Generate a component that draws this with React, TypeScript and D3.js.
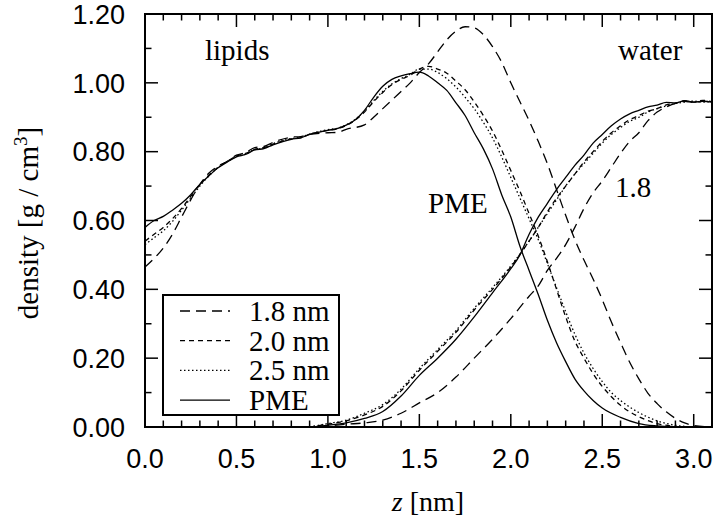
import * as d3 from "d3";

// axis ticks
const zMajor = [0, 0.5, 1.0, 1.5, 2.0, 2.5, 3.0];
const zMinor = [0.1, 0.2, 0.3, 0.4, 0.6, 0.7, 0.8, 0.9, 1.1, 1.2, 1.3, 1.4, 1.6, 1.7, 1.8, 1.9, 2.1, 2.2, 2.3, 2.4, 2.6, 2.7, 2.8, 2.9, 3.1];
const dMajor = [0, 0.2, 0.4, 0.6, 0.8, 1.0, 1.2];
const dMinor = [0.1, 0.3, 0.5, 0.7, 0.9, 1.1];

// lipid density profiles [z (nm), density (g/cm3)]
const lipid18: [number, number][] = [
  [0, 0.465], [0.05, 0.49], [0.1, 0.52], [0.15, 0.56], [0.2, 0.61], [0.25, 0.66], [0.3, 0.705],
  [0.35, 0.738], [0.4, 0.758], [0.45, 0.772], [0.5, 0.79], [0.55, 0.797], [0.6, 0.812], [0.65, 0.815],
  [0.7, 0.827], [0.8, 0.842], [0.85, 0.844], [0.9, 0.85], [1.0, 0.855], [1.05, 0.856], [1.1, 0.865],
  [1.2, 0.878], [1.25, 0.9], [1.3, 0.925], [1.35, 0.95], [1.4, 0.975], [1.45, 1.0], [1.5, 1.03],
  [1.55, 1.055], [1.6, 1.09], [1.65, 1.125], [1.7, 1.15], [1.75, 1.163], [1.8, 1.16], [1.85, 1.14],
  [1.9, 1.105], [1.95, 1.06], [2.0, 1.0], [2.05, 0.945], [2.1, 0.89], [2.15, 0.83], [2.2, 0.765],
  [2.25, 0.69], [2.3, 0.615], [2.35, 0.545], [2.4, 0.485], [2.45, 0.43], [2.5, 0.37], [2.55, 0.305],
  [2.6, 0.245], [2.65, 0.188], [2.7, 0.14], [2.75, 0.098], [2.8, 0.068], [2.85, 0.044], [2.9, 0.025],
  [2.95, 0.012], [3.0, 0.004], [3.1, 0],
];
const lipid20: [number, number][] = [
  [0, 0.54], [0.05, 0.56], [0.1, 0.58], [0.15, 0.605], [0.2, 0.635], [0.25, 0.67], [0.3, 0.705],
  [0.35, 0.732], [0.4, 0.755], [0.45, 0.772], [0.5, 0.787], [0.55, 0.795], [0.6, 0.807], [0.65, 0.812],
  [0.7, 0.822], [0.8, 0.837], [0.85, 0.84], [0.9, 0.85], [1.0, 0.862], [1.05, 0.866], [1.1, 0.876],
  [1.15, 0.892], [1.2, 0.915], [1.25, 0.945], [1.3, 0.972], [1.35, 0.995], [1.4, 1.01], [1.45, 1.022],
  [1.5, 1.04], [1.55, 1.048], [1.6, 1.04], [1.65, 1.028], [1.7, 1.005], [1.75, 0.98], [1.8, 0.945],
  [1.85, 0.905], [1.9, 0.86], [1.95, 0.805], [2.0, 0.745], [2.05, 0.685], [2.1, 0.62], [2.15, 0.555],
  [2.2, 0.48], [2.25, 0.4], [2.3, 0.32], [2.35, 0.25], [2.4, 0.2], [2.45, 0.155], [2.5, 0.118],
  [2.55, 0.088], [2.6, 0.063], [2.7, 0.03], [2.8, 0.01], [2.9, 0.002], [3.0, 0],
];
const lipid25: [number, number][] = [
  [0, 0.53], [0.05, 0.55], [0.1, 0.57], [0.15, 0.597], [0.2, 0.63], [0.25, 0.665], [0.3, 0.7],
  [0.35, 0.73], [0.4, 0.754], [0.45, 0.771], [0.5, 0.786], [0.55, 0.793], [0.6, 0.806], [0.65, 0.81],
  [0.7, 0.823], [0.8, 0.838], [0.85, 0.842], [0.9, 0.851], [1.0, 0.864], [1.05, 0.868], [1.1, 0.878],
  [1.15, 0.894], [1.2, 0.918], [1.25, 0.948], [1.3, 0.975], [1.35, 0.997], [1.4, 1.012], [1.45, 1.025],
  [1.5, 1.04], [1.55, 1.04], [1.6, 1.03], [1.65, 1.012], [1.7, 0.988], [1.75, 0.958], [1.8, 0.925],
  [1.85, 0.885], [1.9, 0.84], [1.95, 0.785], [2.0, 0.725], [2.05, 0.665], [2.1, 0.605], [2.15, 0.545],
  [2.2, 0.475], [2.25, 0.405], [2.3, 0.335], [2.35, 0.27], [2.4, 0.215], [2.45, 0.17], [2.5, 0.132],
  [2.55, 0.1], [2.6, 0.077], [2.7, 0.042], [2.8, 0.018], [2.9, 0.005], [3.0, 0],
];
const lipidPME: [number, number][] = [
  [0, 0.58], [0.05, 0.6], [0.1, 0.612], [0.15, 0.63], [0.2, 0.65], [0.25, 0.675], [0.3, 0.705],
  [0.35, 0.73], [0.4, 0.753], [0.45, 0.77], [0.5, 0.785], [0.55, 0.792], [0.6, 0.805], [0.65, 0.809],
  [0.7, 0.82], [0.8, 0.836], [0.85, 0.84], [0.9, 0.85], [1.0, 0.862], [1.05, 0.867], [1.1, 0.877],
  [1.15, 0.893], [1.2, 0.92], [1.25, 0.958], [1.3, 0.99], [1.35, 1.01], [1.4, 1.02], [1.45, 1.027],
  [1.5, 1.031], [1.55, 1.02], [1.6, 1.0], [1.65, 0.978], [1.7, 0.942], [1.75, 0.905], [1.8, 0.855],
  [1.85, 0.808], [1.9, 0.75], [1.95, 0.675], [2.0, 0.61], [2.05, 0.525], [2.1, 0.455], [2.15, 0.385],
  [2.2, 0.31], [2.25, 0.245], [2.3, 0.19], [2.35, 0.14], [2.4, 0.105], [2.45, 0.077], [2.5, 0.055],
  [2.6, 0.028], [2.7, 0.01], [2.8, 0.003], [2.9, 0],
];

// water density profiles
const water18: [number, number][] = [
  [0.95, 0], [1.0, 0.003], [1.1, 0.008], [1.2, 0.012], [1.3, 0.02], [1.4, 0.04], [1.5, 0.07],
  [1.6, 0.1], [1.7, 0.145], [1.8, 0.2], [1.9, 0.255], [2.0, 0.315], [2.1, 0.38], [2.15, 0.41],
  [2.2, 0.455], [2.25, 0.49], [2.3, 0.53], [2.35, 0.58], [2.4, 0.635], [2.45, 0.68], [2.5, 0.715],
  [2.55, 0.755], [2.6, 0.795], [2.65, 0.83], [2.7, 0.855], [2.75, 0.89], [2.8, 0.915], [2.85, 0.93],
  [2.9, 0.94], [2.95, 0.946], [3.0, 0.943], [3.05, 0.947], [3.1, 0.945],
];
const water20: [number, number][] = [
  [0.9, 0], [1.0, 0.008], [1.1, 0.018], [1.2, 0.035], [1.3, 0.06], [1.4, 0.105], [1.5, 0.165],
  [1.6, 0.22], [1.7, 0.275], [1.8, 0.34], [1.9, 0.4], [2.0, 0.465], [2.1, 0.54], [2.15, 0.58],
  [2.2, 0.625], [2.25, 0.665], [2.3, 0.7], [2.35, 0.735], [2.4, 0.77], [2.45, 0.8], [2.5, 0.83],
  [2.55, 0.855], [2.6, 0.875], [2.65, 0.893], [2.7, 0.905], [2.75, 0.918], [2.8, 0.925], [2.85, 0.936],
  [2.9, 0.94], [2.95, 0.948], [3.0, 0.944], [3.05, 0.949], [3.1, 0.945],
];
const water25: [number, number][] = [
  [0.9, 0], [1.0, 0.01], [1.1, 0.02], [1.2, 0.04], [1.3, 0.065], [1.4, 0.11], [1.5, 0.17],
  [1.6, 0.225], [1.7, 0.28], [1.8, 0.345], [1.9, 0.405], [2.0, 0.468], [2.1, 0.54], [2.15, 0.58],
  [2.2, 0.62], [2.25, 0.66], [2.3, 0.7], [2.35, 0.735], [2.4, 0.765], [2.45, 0.795], [2.5, 0.825],
  [2.55, 0.85], [2.6, 0.87], [2.65, 0.888], [2.7, 0.9], [2.75, 0.915], [2.8, 0.925], [2.85, 0.933],
  [2.9, 0.94], [2.95, 0.944], [3.0, 0.947], [3.05, 0.944], [3.1, 0.946],
];
const waterPME: [number, number][] = [
  [0.9, 0], [1.0, 0.005], [1.1, 0.012], [1.2, 0.025], [1.3, 0.045], [1.4, 0.09], [1.5, 0.15],
  [1.6, 0.2], [1.7, 0.255], [1.8, 0.32], [1.9, 0.39], [2.0, 0.46], [2.05, 0.5], [2.1, 0.56],
  [2.15, 0.61], [2.2, 0.65], [2.25, 0.69], [2.3, 0.725], [2.35, 0.76], [2.4, 0.79], [2.45, 0.825],
  [2.5, 0.85], [2.55, 0.875], [2.6, 0.895], [2.65, 0.91], [2.7, 0.92], [2.75, 0.93], [2.8, 0.935],
  [2.85, 0.943], [2.9, 0.942], [2.95, 0.948], [3.0, 0.944], [3.05, 0.946], [3.1, 0.944],
];

const legendLabels = ["1.8 nm", "2.0 nm", "2.5 nm", "PME"];
const dashes = ["10,6", "5,4", "1.5,2.5", "none"];

const W = 720;
const H = 524;
const M = { left: 145, right: 712, top: 14, bottom: 427 };
const SANS = "'Liberation Sans', Arial, sans-serif";
const SERIF = "'Liberation Serif', 'Times New Roman', serif";

export default function App() {
  const x = d3.scaleLinear().domain([0, 3.1]).range([M.left, M.right]);
  const y = d3.scaleLinear().domain([0, 1.2]).range([M.bottom, M.top]);
  const line = d3
    .line<[number, number]>()
    .x((d) => x(d[0]))
    .y((d) => y(d[1]))
    .curve(d3.curveMonotoneX);

  const groups = [
    [lipid18, water18],
    [lipid20, water20],
    [lipid25, water25],
    [lipidPME, waterPME],
  ];

  const major = 13;
  const minor = 6.5;

  return (
    <svg width={W} height={H} style={{ position: "absolute", left: 0, top: 0, background: "#fff" }}>
      <rect width={W} height={H} fill="#fff" />
      {/* curves */}
      <g fill="none" stroke="#000" strokeWidth={1.3}>
        {groups.map((g, i) =>
          g.map((s, j) => (
            <path key={`${i}-${j}`} d={line(s) ?? ""} strokeDasharray={dashes[i]} />
          ))
        )}
      </g>

      {/* ticks */}
      <g stroke="#000" strokeWidth={1.5}>
        {zMajor.map((t) => (
          <g key={`zM${t}`}>
            <line x1={x(t)} x2={x(t)} y1={M.bottom} y2={M.bottom - major} />
            <line x1={x(t)} x2={x(t)} y1={M.top} y2={M.top + major} />
          </g>
        ))}
        {zMinor.map((t) => (
          <g key={`zm${t}`}>
            <line x1={x(t)} x2={x(t)} y1={M.bottom} y2={M.bottom - minor} />
            <line x1={x(t)} x2={x(t)} y1={M.top} y2={M.top + minor} />
          </g>
        ))}
        {dMajor.map((t) => (
          <g key={`dM${t}`}>
            <line x1={M.left} x2={M.left + major} y1={y(t)} y2={y(t)} />
            <line x1={M.right} x2={M.right - major} y1={y(t)} y2={y(t)} />
          </g>
        ))}
        {dMinor.map((t) => (
          <g key={`dm${t}`}>
            <line x1={M.left} x2={M.left + minor} y1={y(t)} y2={y(t)} />
            <line x1={M.right} x2={M.right - minor} y1={y(t)} y2={y(t)} />
          </g>
        ))}
      </g>
      <rect
        x={M.left}
        y={M.top}
        width={M.right - M.left}
        height={M.bottom - M.top}
        fill="none"
        stroke="#000"
        strokeWidth={2}
      />

      {/* tick labels */}
      <g fontFamily={SANS} fontSize={27} fill="#000">
        {zMajor.map((t) => (
          <text key={`zl${t}`} x={x(t)} y={468} textAnchor="middle">
            {d3.format(".1f")(t)}
          </text>
        ))}
        {dMajor.map((t) => (
          <text key={`dl${t}`} x={125} y={y(t)} dy="0.36em" textAnchor="end">
            {d3.format(".2f")(t)}
          </text>
        ))}
      </g>

      {/* axis titles */}
      <text x={428} y={511} textAnchor="middle" fontFamily={SERIF} fontSize={28}>
        <tspan fontStyle="italic">z</tspan> [nm]
      </text>
      <text
        transform="translate(38,223) rotate(-90)"
        textAnchor="middle"
        fontFamily={SERIF}
        fontSize={29}
      >
        density [g / cm<tspan fontSize={19} dy={-11}>3</tspan>
        <tspan dy={11}>]</tspan>
      </text>

      {/* annotations */}
      <g fontFamily={SERIF} fontSize={29}>
        <text x={205} y={60}>lipids</text>
        <text x={618} y={60}>water</text>
        <text x={428} y={213}>PME</text>
        <text x={615} y={197}>1.8</text>
      </g>

      {/* legend */}
      <rect x={163} y={295} width={176} height={120} fill="#fff" stroke="#000" strokeWidth={2} />
      {legendLabels.map((lab, i) => {
        const by = 321 + i * 29.7;
        return (
          <g key={lab}>
            <line
              x1={180}
              x2={230}
              y1={by - 10}
              y2={by - 10}
              stroke="#000"
              strokeWidth={1.3}
              strokeDasharray={dashes[i]}
            />
            <text x={249} y={by} fontFamily={SERIF} fontSize={29}>
              {lab}
            </text>
          </g>
        );
      })}
    </svg>
  );
}
